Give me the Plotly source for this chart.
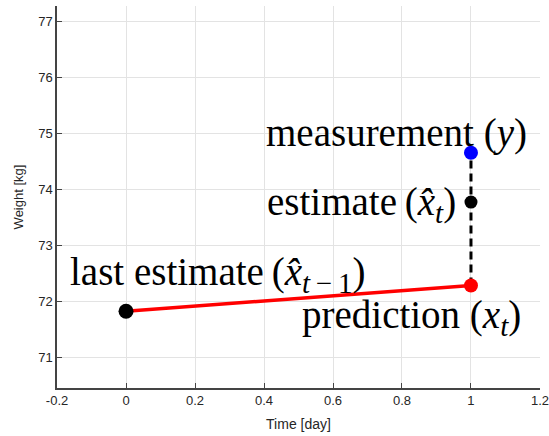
import plotly.graph_objects as go

# data
t_last = [0]
w_last = [71.82]
t_now = [1]
w_pred = [72.28]
w_meas = [74.65]
w_est = [73.77]

x_ticks = [-0.2, 0, 0.2, 0.4, 0.6, 0.8, 1.0, 1.2]
x_ticktext = ["-0.2", "0", "0.2", "0.4", "0.6", "0.8", "1", "1.2"]
y_ticks = [71, 72, 73, 74, 75, 76, 77]

sub = '<sub><span style="font-size:29px">{}</span></sub>'
labels = {
    "last": "last estimate\u2009(<i>x̂</i>" + sub.format("<i>t</i>\u2009−\u20091") + ")",
    "pred": "prediction (<i>x</i>" + sub.format("<i>t</i>") + ")",
    "est": "estimate\u2009(<i>x̂</i>" + sub.format("<i>t</i>") + ")",
    "meas": "measurement (<i>y</i>)",
}

fig = go.Figure()
fig.add_trace(go.Scatter(x=t_last + t_now, y=w_last + w_pred, mode="lines",
                         line=dict(color="#ff0000", width=3.5), showlegend=False, hoverinfo="skip"))
fig.add_trace(go.Scatter(x=t_now + t_now, y=w_pred + w_meas, mode="lines",
                         line=dict(color="black", width=3, dash="8px,5px"), showlegend=False, hoverinfo="skip"))
fig.add_trace(go.Scatter(x=t_last, y=w_last, mode="markers",
                         marker=dict(color="black", size=15), showlegend=False))
fig.add_trace(go.Scatter(x=t_now, y=w_pred, mode="markers",
                         marker=dict(color="#ff0000", size=14), showlegend=False))
fig.add_trace(go.Scatter(x=t_now, y=w_meas, mode="markers",
                         marker=dict(color="#0000ff", size=14), showlegend=False))
fig.add_trace(go.Scatter(x=t_now, y=w_est, mode="markers",
                         marker=dict(color="black", size=13), showlegend=False))

serif = dict(family="Liberation Serif", size=39, color="black")
fig.add_annotation(x=-0.168, y=72.47, text=labels["last"], showarrow=False,
                   xanchor="left", yanchor="middle", font=serif)
fig.add_annotation(x=0.505, y=71.70, text=labels["pred"], showarrow=False,
                   xanchor="left", yanchor="middle", font=serif)
fig.add_annotation(x=0.961, y=73.72, text=labels["est"], showarrow=False,
                   xanchor="right", yanchor="middle", font=serif)
fig.add_annotation(x=1.167, y=75.01, text=labels["meas"], showarrow=False,
                   xanchor="right", yanchor="middle", font=serif)

axis_font = dict(family="Liberation Sans", size=13, color="#262626")
fig.update_xaxes(range=[-0.2001, 1.2001], tickvals=x_ticks, ticktext=x_ticktext,
                 ticklabeloverflow="allow", automargin=False,
                 showgrid=True, gridcolor="#e3e3e3", gridwidth=1,
                 showline=True, linecolor="#444444", linewidth=1.5,
                 ticks="inside", ticklen=5, tickcolor="#444444",
                 zeroline=False, tickfont=axis_font,
                 title=dict(text="Time [day]", font=dict(family="Liberation Sans", size=14, color="#262626"), standoff=12))
fig.update_yaxes(range=[70.45, 77.27], tickvals=y_ticks, automargin=False,
                 showgrid=True, gridcolor="#e3e3e3", gridwidth=1,
                 showline=True, linecolor="#444444", linewidth=1.5,
                 ticks="inside", ticklen=5, tickcolor="#444444",
                 zeroline=False, tickfont=axis_font,
                 title=dict(text="Weight [kg]", font=dict(family="Liberation Sans", size=13, color="#262626"), standoff=12))
fig.update_layout(width=549, height=436, margin=dict(l=57, r=9, t=6, b=48),
                  plot_bgcolor="white", paper_bgcolor="white")
fig.write_html("out.html")
